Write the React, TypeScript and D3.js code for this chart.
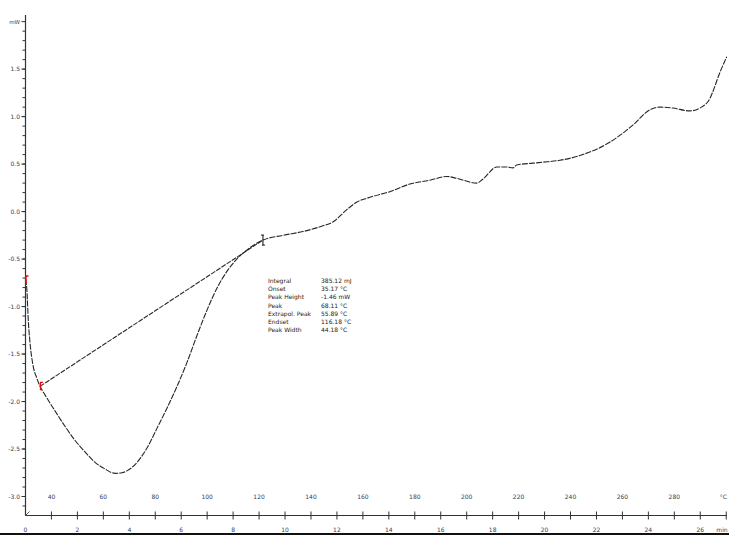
import * as d3 from "d3";

// DSC curve, time in min and heat flow in mW
const timeMin = [
  0.0, 0.05, 0.11, 0.17, 0.29, 0.43, 0.56, 0.75, 1.14, 1.52, 1.91, 2.29, 2.68,
  3.06, 3.45, 3.72, 3.91, 4.3, 4.68, 5.07, 5.45, 5.84, 6.22, 6.6, 6.99, 7.37,
  7.76, 8.14, 8.65, 9.15, 9.92, 10.69, 11.46, 11.84, 12.38, 12.77, 13.27, 14.04,
  14.81, 15.58, 16.24, 16.62, 17.39, 17.62, 18.16, 18.55, 18.78, 18.93, 19.55,
  19.93, 20.59, 21.36, 22.51, 23.4, 24.05, 24.44, 24.94, 25.6, 25.98, 26.37,
  26.48, 26.75, 27.02,
];
const heatFlow = [
  -0.71, -0.81, -1.16, -1.37, -1.62, -1.75, -1.84, -1.93, -2.1, -2.26, -2.41,
  -2.53, -2.64, -2.71, -2.756, -2.75, -2.73, -2.64, -2.49, -2.28, -2.07, -1.84,
  -1.59, -1.31, -1.04, -0.81, -0.63, -0.5, -0.38, -0.3, -0.25, -0.21, -0.15,
  -0.11, 0.02, 0.1, 0.15, 0.21, 0.29, 0.33, 0.37, 0.35, 0.3, 0.34, 0.47, 0.47,
  0.46, 0.49, 0.51, 0.52, 0.54, 0.59, 0.73, 0.91, 1.07, 1.1, 1.09, 1.06, 1.09,
  1.19, 1.26, 1.46, 1.63,
];

// integration baseline
const baselineTime = [0.56, 9.15];
const baselineFlow = [-1.84, -0.3];

// markers
const redMarkerTime = [0.0, 0.56];
const redMarkerFlow = [-0.72, -1.84];
const endMarkerTime = [9.15];
const endMarkerFlow = [-0.3];

// axis ticks
const yLabelValues = [1.5, 1.0, 0.5, 0.0, -0.5, -1.0, -1.5, -2.0, -2.5, -3.0];
const timeLabels = [0, 2, 4, 6, 8, 10, 12, 14, 16, 18, 20, 22, 24, 26];
const tempTimes = [1, 3, 5, 7, 9, 11, 13, 15, 17, 19, 21, 23, 25];
const tempLabels = ["40", "60", "80", "100", "120", "140", "160", "180", "200", "220", "240", "260", "280"];

const resultLabels = ["Integral", "Onset", "Peak Height", "Peak", "Extrapol. Peak", "Endset", "Peak Width"];
const resultValues = ["385.12 mJ", "35.17 °C", "-1.46 mW", "68.11 °C", "55.89 °C", "116.18 °C", "44.18 °C"];

const W = 729;
const H = 535;

export default function App() {
  const x = d3.scaleLinear().domain([0, 27.03]).range([25.5, 727]);
  const y = d3.scaleLinear().domain([-3.2, 2.07]).range([515.5, 15]);
  const axisY = y(-3.2);
  const axisX = x(0);

  const line = d3
    .line<number>()
    .x((_, i) => x(timeMin[i]))
    .y((d) => y(d))
    .curve(d3.curveMonotoneX);

  const minorY = d3.range(-31, 20).map((v) => v / 10);
  const minuteTicks = d3.range(1, 28);
  const font = "'DejaVu Sans', Verdana, sans-serif";

  return (
    <svg
      width={W}
      height={H}
      style={{ position: "absolute", left: 0, top: 0, background: "#fff" }}
      fontFamily={font}
    >
      {/* y axis */}
      <line x1={axisX} x2={axisX} y1={15} y2={axisY} stroke="#333" strokeWidth={1.2} />
      {minorY.map((v) => (
        <line key={"m" + v} x1={axisX - 3} x2={axisX} y1={y(v)} y2={y(v)} stroke="#333" strokeWidth={1} />
      ))}
      {yLabelValues.map((v) => (
        <g key={"y" + v}>
          <line x1={axisX - 4} x2={axisX} y1={y(v)} y2={y(v)} stroke="#333" strokeWidth={1} />
          <text x={20} y={y(v)} dy="0.35em" fontSize={6} textAnchor="end" fill="#3a3a5a">
            {v.toFixed(1)}
          </text>
        </g>
      ))}
      <line x1={axisX - 4} x2={axisX} y1={y(2.0)} y2={y(2.0)} stroke="#333" strokeWidth={1} />
      <text x={20} y={y(2.0)} dy="0.35em" fontSize={5.5} textAnchor="end" fill="#3a3a5a">
        mW
      </text>

      {/* x axis */}
      <line x1={axisX} x2={727} y1={axisY} y2={axisY} stroke="#333" strokeWidth={1.2} />
      <line x1={axisX} x2={axisX + 4} y1={axisY} y2={axisY - 4} stroke="#333" strokeWidth={0.8} />
      {minuteTicks.map((t) => (
        <line key={"t" + t} x1={x(t)} x2={x(t)} y1={axisY - 4} y2={axisY + 4} stroke="#333" strokeWidth={1} />
      ))}
      {timeLabels.map((t) => (
        <text key={"tl" + t} x={x(t)} y={532} fontSize={6} textAnchor="middle" fill="#3a3a5a">
          {t}
        </text>
      ))}
      <text x={722} y={532} fontSize={6} textAnchor="middle" fill="#3a3a5a">
        min
      </text>
      {tempTimes.map((t, i) => (
        <text key={"c" + t} x={x(t)} y={499} fontSize={6} textAnchor="middle" fill="#3a3a5a">
          {tempLabels[i]}
        </text>
      ))}
      <text x={727} y={499} fontSize={6} textAnchor="end" fill="#3a3a5a">
        °C
      </text>

      {/* baseline */}
      <line
        x1={x(baselineTime[0])}
        y1={y(baselineFlow[0])}
        x2={x(baselineTime[1])}
        y2={y(baselineFlow[1])}
        stroke="#2a2a2a"
        strokeWidth={1.1}
        strokeDasharray="5 1.2"
      />

      {/* curve */}
      <path d={line(heatFlow) ?? ""} fill="none" stroke="#262626" strokeWidth={1.1} strokeDasharray="6 1.2" />

      {/* markers */}
      {redMarkerTime.map((t, i) => (
        <path
          key={"r" + i}
          d={`M${x(t) + 0.5},${y(redMarkerFlow[i]) + 4}V${y(redMarkerFlow[i]) - 4}H${x(t) + 3}`}
          fill="none"
          stroke="#e01010"
          strokeWidth={1.4}
        />
      ))}
      {endMarkerTime.map((t, i) => (
        <path
          key={"e" + i}
          d={`M${x(t)},${y(endMarkerFlow[i]) - 5}V${y(endMarkerFlow[i]) + 5}M${x(t) - 2},${y(endMarkerFlow[i]) - 5}H${x(t) + 1}M${x(t) - 1},${y(endMarkerFlow[i]) + 5}H${x(t) + 2}`}
          fill="none"
          stroke="#111"
          strokeWidth={1}
        />
      ))}

      {/* results */}
      {resultLabels.map((l, i) => (
        <g key={"res" + i}>
          <text x={268} y={283 + i * 8.2} fontSize={6} fill="#222">
            {l}
          </text>
          <text x={321} y={283 + i * 8.2} fontSize={6} fill="#222">
            {resultValues[i]}
          </text>
        </g>
      ))}

      {/* bottom border */}
      <line x1={0} x2={W} y1={534} y2={534} stroke="#111" strokeWidth={2} />
    </svg>
  );
}
